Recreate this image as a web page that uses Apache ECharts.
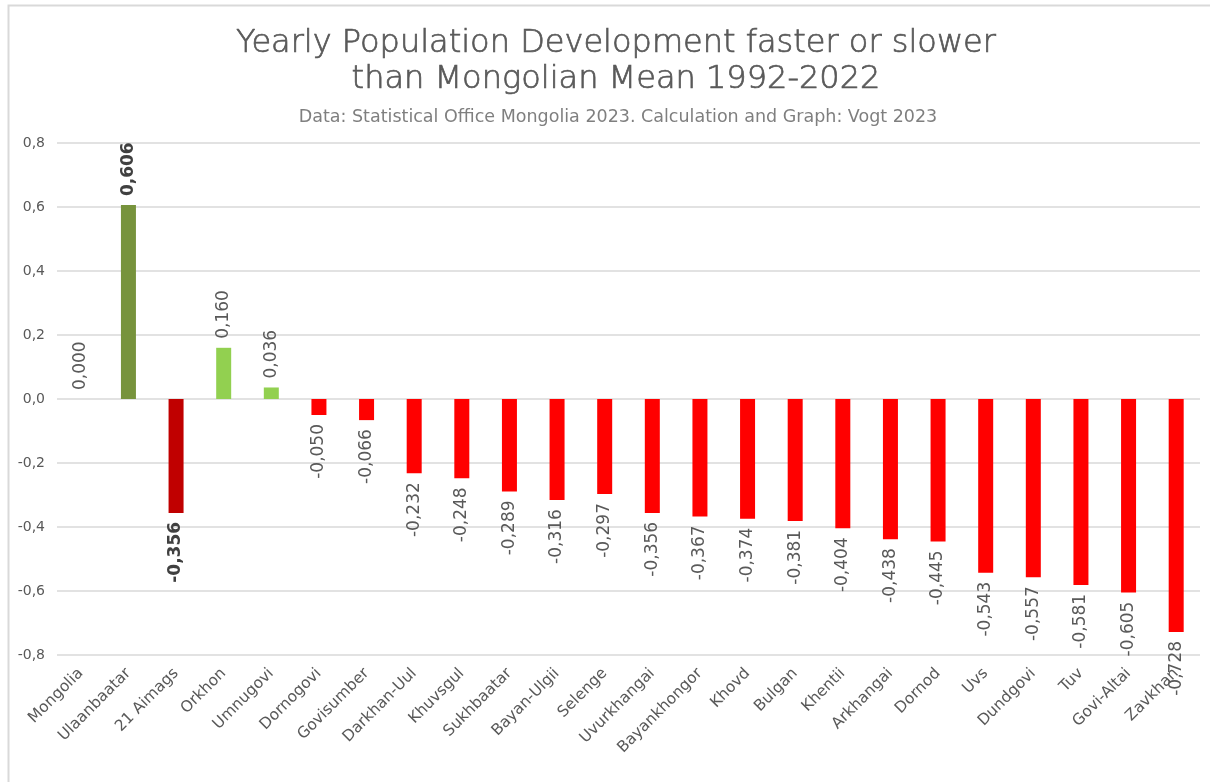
<!DOCTYPE html>
<html>
<head>
<meta charset="utf-8">
<script src="https://cdn.jsdelivr.net/npm/echarts@6/dist/echarts.min.js"></script>
<style>
html,body{margin:0;padding:0;background:#fff;}
#chart{width:1210px;height:782px;}
</style>
</head>
<body>
<div id="chart"></div>
<script>
const categories = ['Mongolia','Ulaanbaatar','21 Aimags','Orkhon','Umnugovi','Dornogovi','Govisumber','Darkhan-Uul','Khuvsgul','Sukhbaatar','Bayan-Ulgii','Selenge','Uvurkhangai','Bayankhongor','Khovd','Bulgan','Khentii','Arkhangai','Dornod','Uvs','Dundgovi','Tuv','Govi-Altai','Zavkhan'];
const values = [0.000,0.606,-0.356,0.160,0.036,-0.050,-0.066,-0.232,-0.248,-0.289,-0.316,-0.297,-0.356,-0.367,-0.374,-0.381,-0.404,-0.438,-0.445,-0.543,-0.557,-0.581,-0.605,-0.728];
const barColors = ['#FF0000','#77933C','#C00000','#92D050','#92D050','#FF0000','#FF0000','#FF0000','#FF0000','#FF0000','#FF0000','#FF0000','#FF0000','#FF0000','#FF0000','#FF0000','#FF0000','#FF0000','#FF0000','#FF0000','#FF0000','#FF0000','#FF0000','#FF0000'];
const boldLabels = ['Ulaanbaatar','21 Aimags'];
const yTicks = [-0.8,-0.6,-0.4,-0.2,0.0,0.2,0.4,0.6,0.8];

const FONT = 'DejaVu Sans';
const TXT = '#595959';

const fmt3 = v => v.toFixed(3).replace('.', ',');

const data = values.map((v, i) => {
  const pos = v >= 0;
  const bold = boldLabels.includes(categories[i]);
  return {
    value: v,
    itemStyle: { color: barColors[i] },
    label: {
      show: true,
      position: pos ? 'top' : 'bottom',
      distance: 9,
      rotate: 90,
      align: pos ? 'left' : 'right',
      verticalAlign: 'middle',
      fontFamily: FONT,
      fontSize: 17,
      color: bold ? '#404040' : TXT,
      fontWeight: bold ? 'bold' : 'normal',
      formatter: p => fmt3(p.value)
    }
  };
});

const chart = echarts.init(document.getElementById('chart'), null, { renderer: 'canvas' });
chart.setOption({
  backgroundColor: '#fff',
  animation: false,
  graphic: [{
    type: 'rect',
    shape: { x: 8.5, y: 5.5, width: 1240, height: 800 },
    style: { fill: 'none', stroke: '#D9D9D9', lineWidth: 2 },
    silent: true
  }],
  title: [{
    text: 'Yearly Population Development faster or slower\nthan Mongolian Mean 1992-2022',
    left: 611,
    textAlign: 'center',
    top: 21,
    textStyle: { fontFamily: FONT, fontSize: 32, fontWeight: 300, color: TXT, lineHeight: 36,
      textBorderColor: TXT, textBorderWidth: 0.7 }
  }, {
    text: 'Data: Statistical Office Mongolia 2023. Calculation and Graph: Vogt 2023',
    left: 613,
    textAlign: 'center',
    top: 103,
    textStyle: { fontFamily: FONT, fontSize: 17.5, fontWeight: 'normal', color: '#7F7F7F' }
  }],
  grid: { left: 57, right: 10, top: 143, bottom: 127, containLabel: false },
  xAxis: {
    type: 'category',
    data: categories,
    axisLine: { show: false, onZero: false },
    axisTick: { show: false },
    axisLabel: { interval: 0, rotate: 45, fontFamily: FONT, fontSize: 15.5, color: TXT, margin: 16 }
  },
  yAxis: {
    type: 'value',
    min: -0.8, max: 0.8, interval: 0.2,
    axisLine: { show: false },
    axisTick: { show: false },
    splitLine: { lineStyle: { color: '#D9D9D9', width: 1.5 } },
    axisLabel: { fontFamily: FONT, fontSize: 14, color: TXT, margin: 12,
      formatter: v => v.toFixed(1).replace('.', ',') }
  },
  series: [{
    type: 'bar',
    data: data,
    barWidth: 15
  }]
});
</script>
</body>
</html>
